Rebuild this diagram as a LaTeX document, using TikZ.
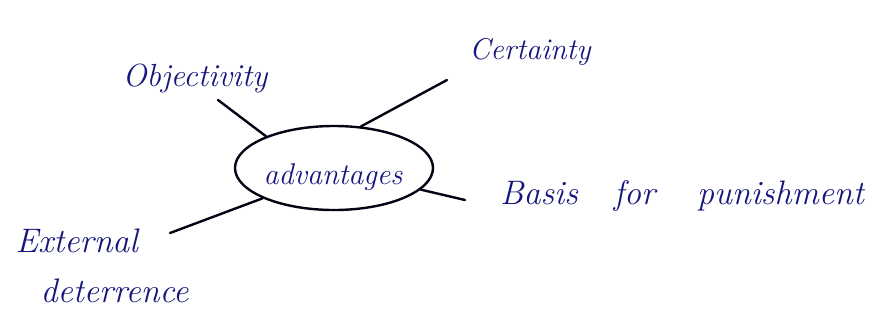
\documentclass[tikz,border=0pt]{standalone}
\usetikzlibrary{shapes.geometric}
\definecolor{ink}{RGB}{22,22,125}
\begin{document}
\begin{tikzpicture}[x=1pt,y=-1pt,
  lbl/.style={text=ink, font=\itshape\fontsize{30}{32}\selectfont, inner sep=0pt},
  link/.style={draw=black!85!ink, line width=2.4pt, line cap=round},
  hub/.style={ellipse, draw=black!85!ink, line width=2.4pt, minimum width=198pt, minimum height=84pt, inner sep=0pt}]
\useasboundingbox (0,0) rectangle (881,327);
\node[hub] (adv) at (334,168) {};
\node[lbl] (advt) at (333,177) {advantages};
\node[lbl, font=\itshape\fontsize{32}{34}\selectfont] (obj) at (195,78) {Objectivity};
\node[lbl] (cert) at (530,52) {Certainty};
\node[lbl, font=\itshape\fontsize{34}{36}\selectfont] (basis) at (682,196) {Basis\hspace{36pt}for\hspace{42pt}punishment};
\node[lbl, align=left, font=\itshape\fontsize{34}{36}\selectfont] (ext) at (102,266) {External\\[14pt]\hspace*{25pt}deterrence};
\coordinate (oe) at (218,100);
\coordinate (ce) at (447,80);
\coordinate (be) at (465,200);
\coordinate (ee) at (170,233);
\draw[link] (adv.155) -- (oe);
\draw[link] (adv.57) -- (ce);
\draw[link] (adv.-14) -- (be);
\draw[link] (adv.-157) -- (ee);
\end{tikzpicture}
\end{document}
